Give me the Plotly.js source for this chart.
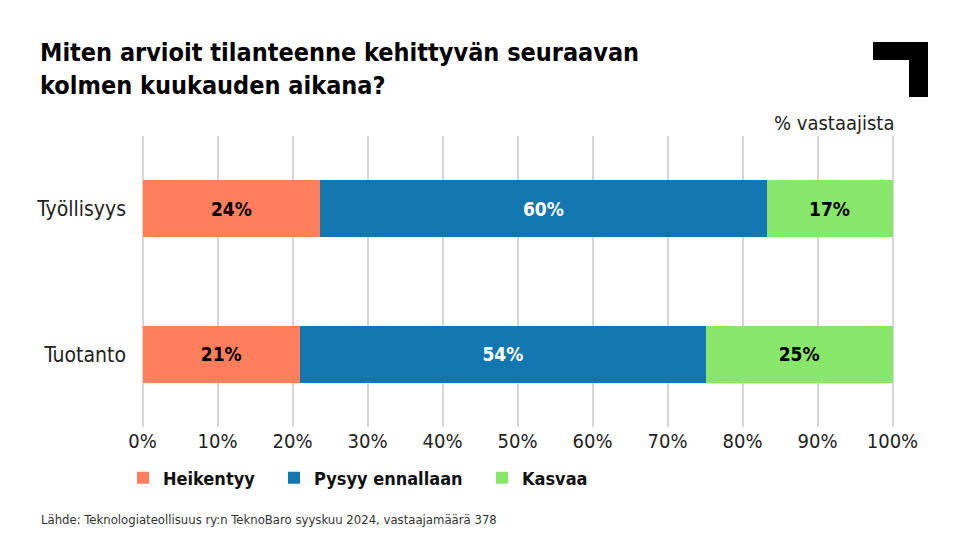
<!DOCTYPE html>
<html>
<head>
<meta charset="utf-8">
<script src="https://cdn.plot.ly/plotly-3.0.1.min.js"></script>
<style>html,body{margin:0;padding:0;background:#fff;}#chart{width:968px;height:545px;}</style>
</head>
<body>
<div id="chart"></div>
<script>
const categories = ["Työllisyys", "Tuotanto"];
const seriesNames = ["Heikentyy", "Pysyy ennallaan", "Kasvaa"];
const heikentyy = [23.7, 21.0];
const pysyy = [59.5, 54.1];
const kasvaa = [16.8, 24.9];
const heikentyyLabels = ["24%", "21%"];
const pysyyLabels = ["60%", "54%"];
const kasvaaLabels = ["17%", "25%"];
const xTickVals = [0, 10, 20, 30, 40, 50, 60, 70, 80, 90, 100];
const xTickText = ["0%", "10%", "20%", "30%", "40%", "50%", "60%", "70%", "80%", "90%", "100%"];

const FONT = "'Liberation Sans Narrow', 'DejaVu Sans Condensed', 'Roboto', sans-serif";
const colors = ["#FF7F5C", "#1277B1", "#88E66A"];
const textColors = ["#000000", "#ffffff", "#000000"];
const W = 968, H = 545;
const M = {l: 141, r: 74, t: 136, b: 118};
const pw = W - M.l - M.r, ph = H - M.t - M.b;
const px = x => (x - M.l) / pw;
const py = y => (H - M.b - y) / ph;

const vals = [heikentyy, pysyy, kasvaa];
const labs = [heikentyyLabels, pysyyLabels, kasvaaLabels];
const legendIds = ["legend", "legend2", "legend3"];
const legendX = [123, 274, 482];
const traces = seriesNames.map((n, i) => ({
  type: "bar", orientation: "h", name: n,
  y: categories, x: vals[i],
  legend: legendIds[i],
  text: labs[i], texttemplate: "%{text}", textposition: "inside", insidetextanchor: "middle",
  textfont: {family: FONT, size: 19, color: textColors[i], weight: "bold"},
  constraintext: "none",
  marker: {color: colors[i], line: {width: 0}},
  hoverinfo: "skip"
}));

const layout = {
  width: W, height: H,
  margin: M,
  paper_bgcolor: "#ffffff", plot_bgcolor: "#ffffff",
  barmode: "stack", bargap: 0.608,
  font: {family: FONT, color: "#222222"},
  showlegend: true,
  title: {text: "<b>Miten arvioit tilanteenne kehittyvän seuraavan<br>kolmen kuukauden aikana?</b>",
    xref: "container", yref: "container", x: 40 / W, xanchor: "left", y: 1 - 61 / H, yanchor: "middle",
    font: {family: FONT, size: 25, color: "#000000"}},
  xaxis: {range: [-0.2, 100.2], tickvals: xTickVals, ticktext: xTickText, showgrid: true,
    gridcolor: "#d6d6d6", gridwidth: 2, zeroline: false, showline: false, ticks: "",
    ticklabelstandoff: 0, tickfont: {family: FONT, size: 20, color: "#222222"}, fixedrange: true},
  yaxis: {type: "category", range: [1.5, -0.5], showgrid: false, zeroline: false, ticks: "",
    ticklabelstandoff: 14, tickfont: {family: FONT, size: 21, color: "#222222"}, fixedrange: true},
  annotations: [
    {text: "% vastaajista", xref: "paper", yref: "paper", x: px(896), xanchor: "right", y: py(123), yanchor: "middle",
      showarrow: false, font: {family: FONT, size: 20, color: "#222222"}},
    {text: "Lähde: Teknologiateollisuus ry:n TeknoBaro syyskuu 2024, vastaajamäärä 378", xref: "paper", yref: "paper",
      x: px(39), xanchor: "left", y: py(519), yanchor: "middle", showarrow: false,
      font: {family: FONT, size: 13, color: "#333333"}}
  ],
  shapes: [
    {type: "rect", xref: "paper", yref: "paper", x0: px(873), x1: px(928), y0: py(42), y1: py(60), fillcolor: "#000", line: {width: 0}, layer: "above"},
    {type: "rect", xref: "paper", yref: "paper", x0: px(909), x1: px(928), y0: py(42), y1: py(97), fillcolor: "#000", line: {width: 0}, layer: "above"}
  ]
};
legendIds.forEach((id, i) => {
  layout[id] = {orientation: "h", x: px(legendX[i]), xanchor: "left", y: py(478), yanchor: "middle",
    font: {family: FONT, size: 18, color: "#111111", weight: "bold"}, itemwidth: 30, bgcolor: "rgba(0,0,0,0)"};
});

Plotly.newPlot("chart", traces, layout, {displayModeBar: false, staticPlot: true});
</script>
</body>
</html>
